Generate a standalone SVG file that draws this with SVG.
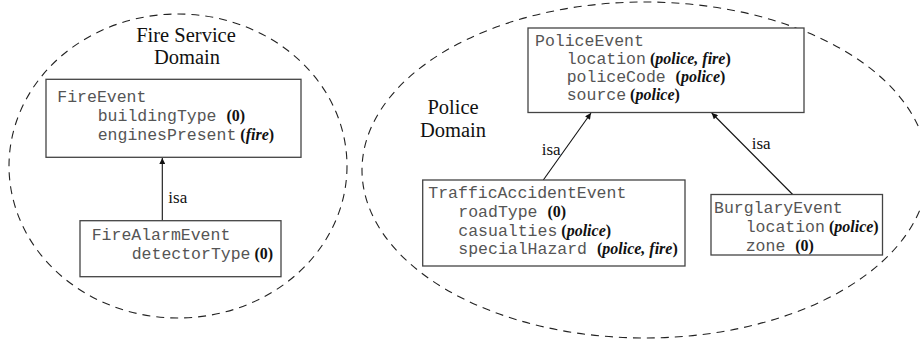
<svg xmlns="http://www.w3.org/2000/svg" width="920" height="342" viewBox="0 0 920 342">
  <style>
    .domain { fill: none; stroke: #222; stroke-width: 1.1; stroke-dasharray: 8 6; }
    .box { fill: #fff; stroke: #444; stroke-width: 1.3; }
    .title { font-family: "Liberation Serif", "Times New Roman", serif; font-size: 20.5px; fill: #111; text-anchor: middle; }
    .code { font-family: "Liberation Mono", "Courier New", monospace; font-size: 16.5px; fill: #555; }
    .note { font-family: "Liberation Serif", "Times New Roman", serif; font-size: 16px; font-weight: bold; fill: #111; }
    .who { font-style: italic; }
    .edge { fill: none; stroke: #111; stroke-width: 1.1; }
    .lbl { font-family: "Liberation Serif", "Times New Roman", serif; font-size: 17px; fill: #111; }
  </style>
  <defs>
    <marker id="head" viewBox="0 0 10 10" refX="10" refY="5" markerWidth="8" markerHeight="6" markerUnits="userSpaceOnUse" orient="auto">
      <path d="M0,0 L10,5 L0,10 z" fill="#111"/>
    </marker>
  </defs>

  <!-- domains -->
  <g id="fire-domain">
    <ellipse class="domain" cx="178" cy="166" rx="169" ry="152"/>
    <text class="title" x="186" y="41.5">Fire Service</text>
    <text class="title" x="187" y="64">Domain</text>
  </g>
  <g id="police-domain">
    <ellipse class="domain" cx="645" cy="170" rx="283" ry="168"/>
    <text class="title" x="453" y="114">Police</text>
    <text class="title" x="453" y="136.5">Domain</text>
  </g>

  <!-- isa connectors -->
  <g id="connectors">
    <line class="edge" x1="162.3" y1="220.7" x2="162.3" y2="158" marker-end="url(#head)"/>
    <text class="lbl" x="168.3" y="203.3">isa</text>
    <line class="edge" x1="543.3" y1="180" x2="591" y2="113" marker-end="url(#head)"/>
    <text class="lbl" x="541.7" y="155">isa</text>
    <line class="edge" x1="792.7" y1="194.5" x2="711.7" y2="113" marker-end="url(#head)"/>
    <text class="lbl" x="751.7" y="149.3">isa</text>
  </g>

  <!-- event classes -->
  <g id="FireEvent">
    <rect class="box" x="46" y="79.3" width="255" height="78"/>
    <text class="code" x="57.3" y="101.7">FireEvent</text>
    <text x="97.7" y="120.7"><tspan class="code">buildingType </tspan><tspan class="note">(0)</tspan></text>
    <text x="97.7" y="140"><tspan class="code">enginesPresent</tspan><tspan class="note"> (<tspan class="who">fire</tspan>)</tspan></text>
  </g>

  <g id="FireAlarmEvent">
    <rect class="box" x="80" y="220.7" width="201" height="56"/>
    <text class="code" x="91.7" y="240">FireAlarmEvent</text>
    <text x="131.7" y="259.3"><tspan class="code">detectorType</tspan><tspan class="note"> (0)</tspan></text>
  </g>

  <g id="PoliceEvent">
    <rect class="box" x="528" y="28" width="276" height="84.5"/>
    <text class="code" x="535" y="46">PoliceEvent</text>
    <text x="566.7" y="64"><tspan class="code">location</tspan><tspan class="note"> (<tspan class="who">police, fire</tspan>)</tspan></text>
    <text x="566.7" y="82"><tspan class="code">policeCode </tspan><tspan class="note">(<tspan class="who">police</tspan>)</tspan></text>
    <text x="566.7" y="100"><tspan class="code">source</tspan><tspan class="note"> (<tspan class="who">police</tspan>)</tspan></text>
  </g>

  <g id="TrafficAccidentEvent">
    <rect class="box" x="422.7" y="180" width="262.3" height="86"/>
    <text class="code" x="428.3" y="198.3">TrafficAccidentEvent</text>
    <text x="458.3" y="216.7"><tspan class="code">roadType </tspan><tspan class="note">(0)</tspan></text>
    <text x="458.3" y="235.7"><tspan class="code">casualties</tspan><tspan class="note"> (<tspan class="who">police</tspan>)</tspan></text>
    <text x="458.3" y="254.3"><tspan class="code">specialHazard </tspan><tspan class="note">(<tspan class="who">police, fire</tspan>)</tspan></text>
  </g>

  <g id="BurglaryEvent">
    <rect class="box" x="711" y="194.5" width="171.5" height="60.5"/>
    <text class="code" x="714" y="213.3">BurglaryEvent</text>
    <text x="745.7" y="231.7"><tspan class="code">location</tspan><tspan class="note"> (<tspan class="who">police</tspan>)</tspan></text>
    <text x="745.7" y="250.7"><tspan class="code">zone </tspan><tspan class="note">(0)</tspan></text>
  </g>
</svg>
